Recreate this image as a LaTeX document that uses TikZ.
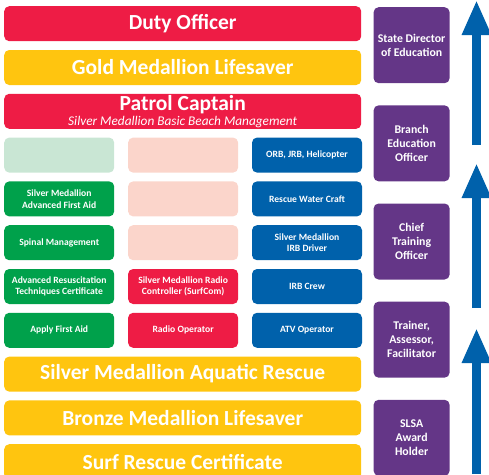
\documentclass[tikz,border=0pt]{standalone}
\usepackage{fontspec}
\setmainfont{Carlito}
\usetikzlibrary{arrows.meta,positioning}

\definecolor{lsred}{HTML}{EE1C45}
\definecolor{lsyellow}{HTML}{FFC50F}
\definecolor{lsgreen}{HTML}{00A14B}
\definecolor{lsgreenpale}{HTML}{C9E6D4}
\definecolor{lspink}{HTML}{FBD5CB}
\definecolor{lsblue}{HTML}{0061AB}
\definecolor{lspurple}{HTML}{643687}

\tikzset{
  bar/.style={fill=#1, rounded corners=5pt, inner sep=0pt, text=white,
    minimum width=357pt, minimum height=35pt, align=center,
    font=\bfseries\fontsize{21.5}{24}\selectfont},
  cell/.style={fill=#1, rounded corners=5pt, inner sep=0pt, text=white,
    minimum width=110pt, minimum height=35pt, align=center,
    font=\bfseries\fontsize{9.6}{11.7}\selectfont},
  role/.style={fill=lspurple, rounded corners=5pt, inner sep=0pt, text=white,
    minimum width=76pt, minimum height=76pt, align=center,
    font=\bfseries\fontsize{11.8}{14}\selectfont},
  climb/.style={draw=lsblue, line width=9pt, -{Triangle[length=35pt,width=27pt]}},
}

\begin{document}
\begin{tikzpicture}[x=1pt, y=-1pt]
  \useasboundingbox (0,0) rectangle (489,474);

  % Define nodes - top bars
  \node[bar=lsred, anchor=north west] (duty) at (4,6) {Duty Officer};%
  \node[bar=lsyellow, below=8.4pt of duty] (gold) {Gold Medallion Lifesaver};%
  \node[bar=lsred, below=8.4pt of gold] (patrol) {Patrol Captain\\[-9pt]%
    {\normalfont\itshape\fontsize{13.3}{13}\selectfont Silver Medallion Basic Beach Management}};%

  % First aid column
  \node[cell=lsgreenpale, below right=8.4pt and 0pt of patrol.south west] (fa0) {};%
  \node[cell=lsgreen, below=8.4pt of fa0] (smafa) {Silver Medallion\\Advanced First Aid};%
  \node[cell=lsgreen, below=8.4pt of smafa] (spinal) {Spinal Management};%
  \node[cell=lsgreen, below=8.4pt of spinal] (arc) {Advanced Resuscitation\\Techniques Certificate};%
  \node[cell=lsgreen, below=8.4pt of arc] (apply) {Apply First Aid};%

  % Radio column
  \node[cell=lspink, right=13.5pt of fa0] (rc0) {};%
  \node[cell=lspink, below=8.4pt of rc0] (rc1) {};%
  \node[cell=lspink, below=8.4pt of rc1] (rc2) {};%
  \node[cell=lsred, below=8.4pt of rc2] (surfcom) {Silver Medallion Radio\\Controller (SurfCom)};%
  \node[cell=lsred, below=8.4pt of surfcom] (radio) {Radio Operator};%

  % Craft column
  \node[cell=lsblue, right=13.5pt of rc0] (orb) {ORB, JRB, Helicopter};%
  \node[cell=lsblue, below=8.4pt of orb] (rwc) {Rescue Water Craft};%
  \node[cell=lsblue, below=8.4pt of rwc] (irbd) {Silver Medallion\\IRB Driver};%
  \node[cell=lsblue, below=8.4pt of irbd] (irbc) {IRB Crew};%
  \node[cell=lsblue, below=8.4pt of irbc] (atv) {ATV Operator};%

  % Bottom bars
  \node[bar=lsyellow, below right=8.4pt and 0pt of apply.south west] (smar) {Silver Medallion Aquatic Rescue};%
  \node[bar=lsyellow, below=8.4pt of smar] (bronze) {Bronze Medallion Lifesaver};%
  \node[bar=lsyellow, below=8.4pt of bronze] (src) {Surf Rescue Certificate};%

  % Training roles
  \node[role, below right=1pt and 12pt of duty.north east] (sde) {State Director\\of Education};%
  \node[role, below=21.75pt of sde] (beo) {Branch\\Education\\Officer};%
  \node[role, below=21.75pt of beo] (cto) {Chief\\Training\\Officer};%
  \node[role, below=21.75pt of cto] (taf) {Trainer,\\Assessor,\\Facilitator};%
  \node[role, below=21.75pt of taf] (holder) {SLSA\\Award\\Holder};%

  % Define edges - pathway arrows
  \coordinate (up1a) at (476.5,145);
  \coordinate (up1b) at (476.5,0);
  \coordinate (up2a) at (476.5,308);
  \coordinate (up2b) at (476.5,163);
  \coordinate (up3a) at (476.5,474);
  \coordinate (up3b) at (476.5,328);
  \draw[climb] (up1a) -- (up1b);
  \draw[climb] (up2a) -- (up2b);
  \draw[climb] (up3a) -- (up3b);
\end{tikzpicture}
\end{document}
